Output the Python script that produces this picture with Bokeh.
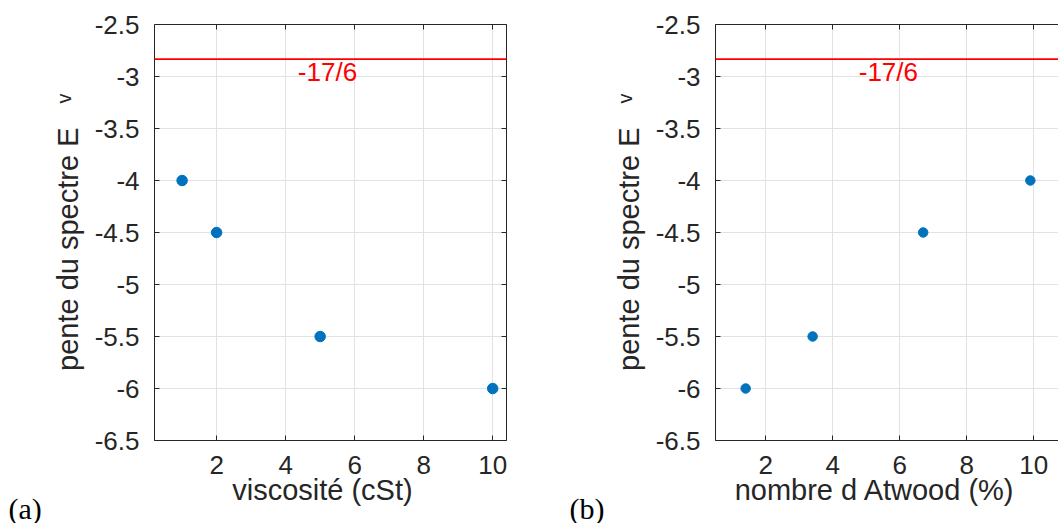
from bokeh.plotting import figure
from bokeh.models import LinearAxis, FixedTicker, Span, Label, Range1d, Title
from bokeh.layouts import row
from bokeh.embed import file_html
from bokeh.resources import INLINE

# ---- data ----
viscosity = [1, 2, 5, 10]
slope_viscosity = [-4.0, -4.5, -5.5, -6.0]
atwood = [1.4, 3.4, 6.7, 9.9]
slope_atwood = [-6.0, -5.5, -4.5, -4.0]
ref_slope = -17 / 6
ref_label = "-17/6"
y_ticks = [-6.5, -6.0, -5.5, -5.0, -4.5, -4.0, -3.5, -3.0, -2.5]
y_tick_labels = ["-6.5", "-6", "-5.5", "-5", "-4.5", "-4", "-3.5", "-3", "-2.5"]
x_ticks = [2, 4, 6, 8, 10]
x_tick_labels = ["2", "4", "6", "8", "10"]
ylabel = "pente du spectre E"
ylabel_sub = "\u1d5b"   # raised small v
xlabel_a = "viscosité (cSt)"
xlabel_b = "nombre d Atwood (%)"
tags = ["(a)", "(b)"]

FONT = "Liberation Sans"
DARK = "#262626"
GRID = "#e2e2e2"
BLUE = "#0072BD"
RED = "#ff0000"
NB = "\u00a0"


def style_axis(ax, ticks, labels=None, show_labels=True):
    ax.ticker = FixedTicker(ticks=ticks)
    ax.axis_line_color = DARK
    ax.axis_line_width = 1
    ax.major_tick_line_color = DARK
    ax.major_tick_in = 5
    ax.major_tick_out = 0
    ax.minor_tick_in = 0
    ax.minor_tick_out = 0
    if show_labels:
        ax.major_label_text_font = FONT
        ax.major_label_text_font_size = "26px"
        ax.major_label_text_color = DARK
        if labels is not None:
            ax.major_label_overrides = {t: l for t, l in zip(ticks, labels)}
    else:
        ax.major_label_overrides = {t: "" for t in ticks}
        ax.major_label_text_font_size = "1px"
        ax.major_label_standoff = 0


def panel(x, y, xlim, label_mid, xlabel, xpad, tag, width, mbr, right_axis, msize):
    p = figure(width=width, height=523,
               x_range=Range1d(*xlim), y_range=Range1d(y_ticks[0], y_ticks[-1]),
               output_backend="svg", toolbar_location=None,
               min_border_left=154, min_border_right=mbr,
               min_border_top=24, min_border_bottom=83)
    p.outline_line_color = None
    p.background_fill_color = "white"
    p.border_fill_color = "white"

    xa = p.xaxis[0]
    style_axis(xa, x_ticks, x_tick_labels)
    xa.major_label_standoff = 15
    xa.axis_label = xlabel + NB * xpad
    xa.axis_label_text_font = FONT
    xa.axis_label_text_font_size = "29px"
    xa.axis_label_text_font_style = "normal"
    xa.axis_label_text_color = DARK
    xa.axis_label_standoff = -3

    ya = p.yaxis[0]
    style_axis(ya, y_ticks, y_tick_labels)
    ya.major_label_standoff = 15
    ya.axis_label = ylabel + NB * 3 + ylabel_sub
    ya.axis_label_text_font = FONT
    ya.axis_label_text_font_size = "29px"
    ya.axis_label_text_font_style = "normal"
    ya.axis_label_text_color = DARK
    ya.axis_label_standoff = 8

    top = LinearAxis()
    style_axis(top, x_ticks, show_labels=False)
    p.add_layout(top, "above")
    if right_axis:
        r = LinearAxis()
        style_axis(r, y_ticks, show_labels=False)
        p.add_layout(r, "right")

    p.xgrid.ticker = FixedTicker(ticks=x_ticks)
    p.ygrid.ticker = FixedTicker(ticks=y_ticks)
    for g in (p.xgrid[0], p.ygrid[0]):
        g.grid_line_color = GRID
        g.grid_line_width = 1

    p.add_layout(Span(location=ref_slope, dimension="width",
                      line_color=RED, line_width=1.8))
    p.add_layout(Label(x=label_mid, y=ref_slope, text=ref_label,
                       text_align="center", text_baseline="top",
                       text_color=RED, text_font=FONT,
                       text_font_size="26px", x_offset=-3, y_offset=2))

    p.scatter(x, y, size=msize, fill_color=BLUE, line_color=BLUE)

    p.add_layout(Title(text=tag, align="left", vertical_align="top",
                       offset=-146, standoff=-34,
                       text_color="black", text_font="Liberation Serif",
                       text_font_size="30px", text_font_style="normal"),
                 "below")
    return p


p1 = panel(viscosity, slope_viscosity, (0.2, 10.4), (0.2 + 10.4) / 2,
           xlabel_a, 2, tags[0], 561, 55, True, 10.5)
p2 = panel(atwood, slope_atwood, (0.5, 10.74), (0.5 + 11.0) / 2,
           xlabel_b, 3, tags[1], 497, 0, False, 9.5)

layout = row(p1, p2)
open("out.html", "w").write(file_html(layout, INLINE))
